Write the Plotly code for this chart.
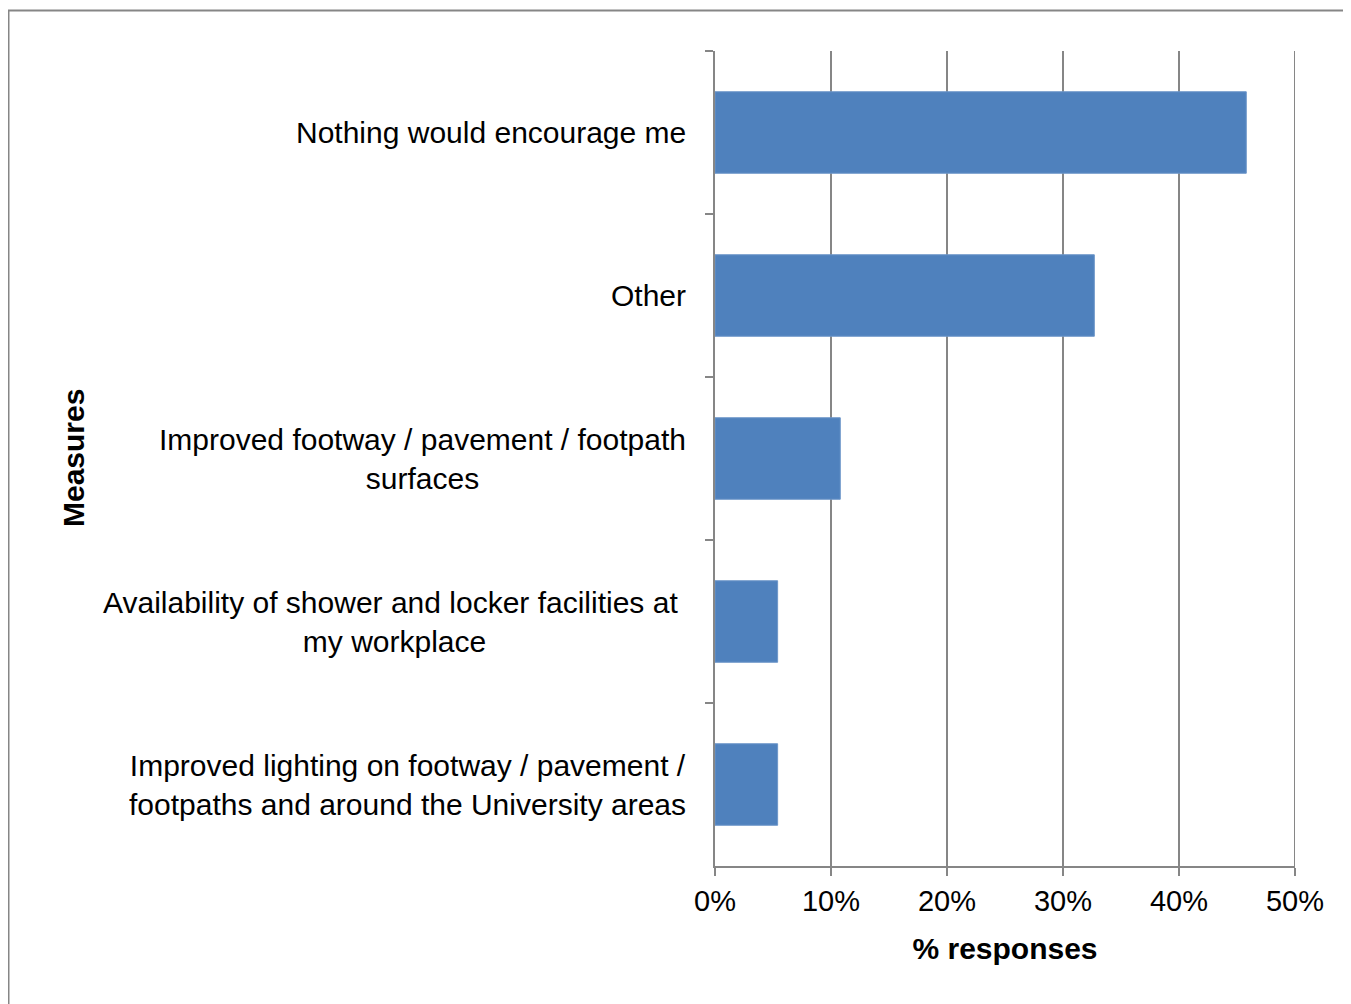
import plotly.graph_objects as go

# measures, top to bottom as shown
measures = [
    "Nothing would encourage me",
    "Other",
    "Improved footway / pavement / footpath<br>surfaces",
    "Availability of shower and locker facilities at <br>my workplace",
    "Improved lighting on footway / pavement /<br>footpaths and around the University areas",
]
pct_responses = [0.458, 0.327, 0.108, 0.054, 0.054]
x_ticks = [0, 0.1, 0.2, 0.3, 0.4, 0.5]
x_ticklabels = ["0%", "10%", "20%", "30%", "40%", "50%"]
x_max = 0.5

GREY = "#868686"
FONT = "Liberation Sans, Arial, sans-serif"
OFF = 8  # page body margin
W, H = 1351 - OFF, 1004 - OFF
ML, MR, MT, MB = 715 - OFF, W - (1295 - OFF), 51 - OFF, H - (866 - OFF)

fig = go.Figure(go.Bar(
    x=pct_responses,
    y=measures,
    orientation="h",
    marker=dict(color="#4F81BD", line=dict(color="#6d96c9", width=1)),
    width=0.5,
))

# category labels as centred multi-line text, like the original chart
for m in measures:
    fig.add_annotation(
        x=0, xref="paper", y=m, yref="y",
        text=m, showarrow=False,
        xanchor="right", yanchor="middle", align="center", xshift=-27,
        font=dict(family=FONT, size=30, color="black"),
    )

pw = W - ML - MR
ph = H - MT - MB


def px_x(p):
    return (p - OFF - ML) / pw


def px_y(p):
    return (H - MB - (p - OFF)) / ph


# outer chart frame (clipped at right and bottom like the reference)
fig.add_shape(
    type="rect", xref="paper", yref="paper",
    x0=px_x(8.5), x1=px_x(W + 60),
    y0=px_y(H + 60), y1=px_y(10.5),
    line=dict(color=GREY, width=2), fillcolor="rgba(0,0,0,0)", layer="below",
)
# gridline at the range end (plotly drops it at the edge)
fig.add_shape(
    type="line", xref="x", yref="paper", x0=x_max, x1=x_max, y0=0, y1=1,
    line=dict(color=GREY, width=2), layer="below",
)

fig.add_annotation(
    x=px_x(73), xref="paper", y=px_y(458), yref="paper",
    text="<b>Measures</b>", textangle=-90, showarrow=False,
    xanchor="center", yanchor="middle",
    font=dict(family=FONT, size=30, color="black"),
)

fig.update_layout(
    width=W, height=H,
    margin=dict(l=ML, r=MR, t=MT, b=MB),
    plot_bgcolor="white", paper_bgcolor="white",
    font=dict(family=FONT, size=29, color="black"),
    showlegend=False,
    xaxis=dict(
        range=[0, x_max], tickvals=x_ticks, ticktext=x_ticklabels,
        showgrid=True, gridcolor=GREY, gridwidth=2,
        showline=True, linecolor=GREY, linewidth=2,
        ticks="outside", ticklen=8, tickcolor=GREY, tickwidth=2,
        zeroline=False,
        title=dict(text="<b>% responses</b>", standoff=22, font=dict(size=30)),
        tickfont=dict(size=29),
    ),
    yaxis=dict(
        categoryorder="array", categoryarray=measures, autorange="reversed",
        showticklabels=False,
        showline=True, linecolor=GREY, linewidth=2,
        ticks="outside", ticklen=8, tickcolor=GREY, tickwidth=2,
        tickson="boundaries", showgrid=False,
    ),
)

fig.write_html("out.html")
